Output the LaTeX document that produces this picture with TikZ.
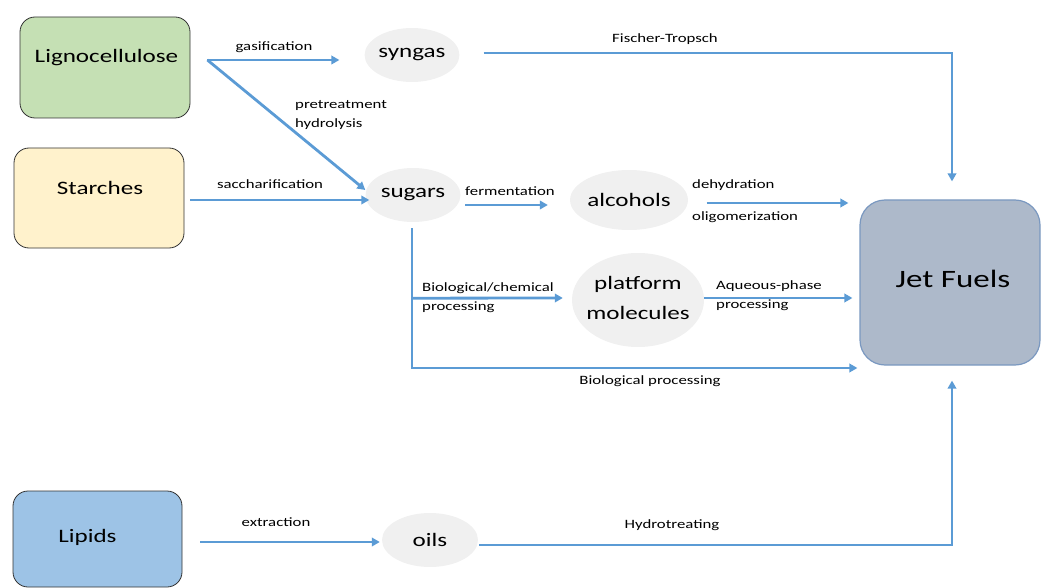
\documentclass[tikz,border=0pt]{standalone}
\usepackage{fontspec}
\setmainfont{Carlito}[FakeStretch=1.32]
\usetikzlibrary{arrows.meta,calc,shapes.geometric}
\definecolor{arrowblue}{HTML}{5B9BD5}
\definecolor{lgreen}{HTML}{C5E0B4}
\definecolor{lyellow}{HTML}{FFF2CC}
\definecolor{lblue}{HTML}{9DC3E6}
\definecolor{jetgray}{HTML}{ADB9CA}
\definecolor{jetborder}{HTML}{7A98C0}
\definecolor{ellgray}{HTML}{F0F0F0}
\begin{document}
\begin{tikzpicture}[x=1pt,y=-1pt,
 src/.style={draw=black!80, line width=0.8pt, rounded corners=15pt, inner sep=0pt},
 boxtext/.style={font=\fontsize{19}{23}\selectfont, inner sep=0pt},
 ell/.style={ellipse, fill=ellgray, inner sep=0pt, font=\fontsize{19}{30}\selectfont, align=center},
 flow/.style={draw=arrowblue, line width=2.8pt, -{Triangle[length=8pt,width=8.5pt]}},
 lab/.style={font=\fontsize{12.7}{19}\selectfont, inner sep=0pt}
]
\useasboundingbox (0,0) rectangle (1041,588);

% source boxes
\node[src, fill=lgreen, minimum width=170pt, minimum height=101pt,
  label={[boxtext, xshift=1.5pt, yshift=9.5pt]center:Lignocellulose}] (ligno) at (105,67.5) {};
\node[src, fill=lyellow, minimum width=170pt, minimum height=100pt,
  label={[boxtext, xshift=1pt, yshift=10pt]center:Starches}] (starch) at (99,198) {};
\node[src, fill=lblue, minimum width=169pt, minimum height=96pt,
  label={[boxtext, xshift=-10pt, yshift=2pt]center:Lipids}] (lipids) at (97.5,539) {};
\node[draw=jetborder, line width=1.2pt, fill=jetgray, rounded corners=25pt, inner sep=0pt,
  minimum width=180pt, minimum height=165pt,
  label={[font=\fontsize{25}{30}\selectfont, inner sep=0pt, xshift=3pt, yshift=4pt]center:Jet Fuels}] (jet) at (950,282.5) {};

% intermediates
\node[ell, minimum width=94pt, minimum height=54pt] (syngas) at (412,55) {syngas};
\node[ell, minimum width=95pt, minimum height=54pt] (sugars) at (413,195) {sugars};
\node[ell, minimum width=99pt, minimum height=60pt] (alcohols) at (629,200) {alcohols};
\node[ell, minimum width=132pt, minimum height=94pt] (platform) at (638,300) {};
\node[font=\fontsize{19}{30}\selectfont, align=center, inner sep=0pt] (platformtext) at (638,298) {platform\\molecules};
\node[ell, minimum width=96pt, minimum height=54pt] (oils) at (430,540) {oils};

% connectors
\coordinate (split) at ($(ligno.east)+(17,-7.5)$);
\draw[flow] (split) -- ($(syngas.west)+(-25,5)$);
\draw[flow] (split) -- ($(sugars.west)+(0,-5)$);
\draw[flow] ($(starch.east)+(6,2)$) -- ($(sugars.west)+(4,5)$);
\draw[flow] ($(syngas.east)+(24,-2)$) -| ($(jet.north)+(2,-18)$);
\draw[flow] ($(sugars.east)+(4.5,10)$) -- ($(alcohols.west)+(-22,5)$);
\draw[flow] ($(alcohols.east)+(18.5,3)$) -- ($(jet.west)+(-11,-79.5)$);
\coordinate (down) at ($(sugars.south)+(-1,6)$);
\coordinate (branch) at ($(down)+(0,70)$);
\draw[flow] (down) |- ($(jet.west)+(-2,85.5)$);
\draw[flow] (branch) -- ($(platform.west)+(-9,-2)$);
\draw[flow] ($(platform.east)+(0,-2)$) -- ($(jet.west)+(-7,15.5)$);
\draw[flow] ($(lipids.east)+(18,3)$) -- ($(oils.west)+(-2,2)$);
\draw[flow] ($(oils.east)+(1,5)$) -| ($(jet.south)+(2,15)$);

% labels
\node[lab] (lgas) at (274,47) {gasification};
\node[lab, align=left, anchor=west] (lpre) at (295,115) {pretreatment\\hydrolysis};
\node[lab] (lsac) at (270,184) {saccharification};
\node[lab] (lft) at (665,39) {Fischer-Tropsch};
\node[lab] (lfer) at (510,191) {fermentation};
\node[lab, anchor=west] (ldeh) at (692,185) {dehydration};
\node[lab, anchor=west] (loli) at (692,217) {oligomerization};
\node[lab, align=left, anchor=west] (lbc) at (422,297.5) {Biological/chemical\\processing};
\node[lab, align=left, anchor=west] (laq) at (716,296) {Aqueous-phase\\processing};
\node[lab] (lbio) at (650,381) {Biological processing};
\node[lab] (lext) at (276,522) {extraction};
\node[lab] (lhyd) at (672,525) {Hydrotreating};
\end{tikzpicture}
\end{document}
